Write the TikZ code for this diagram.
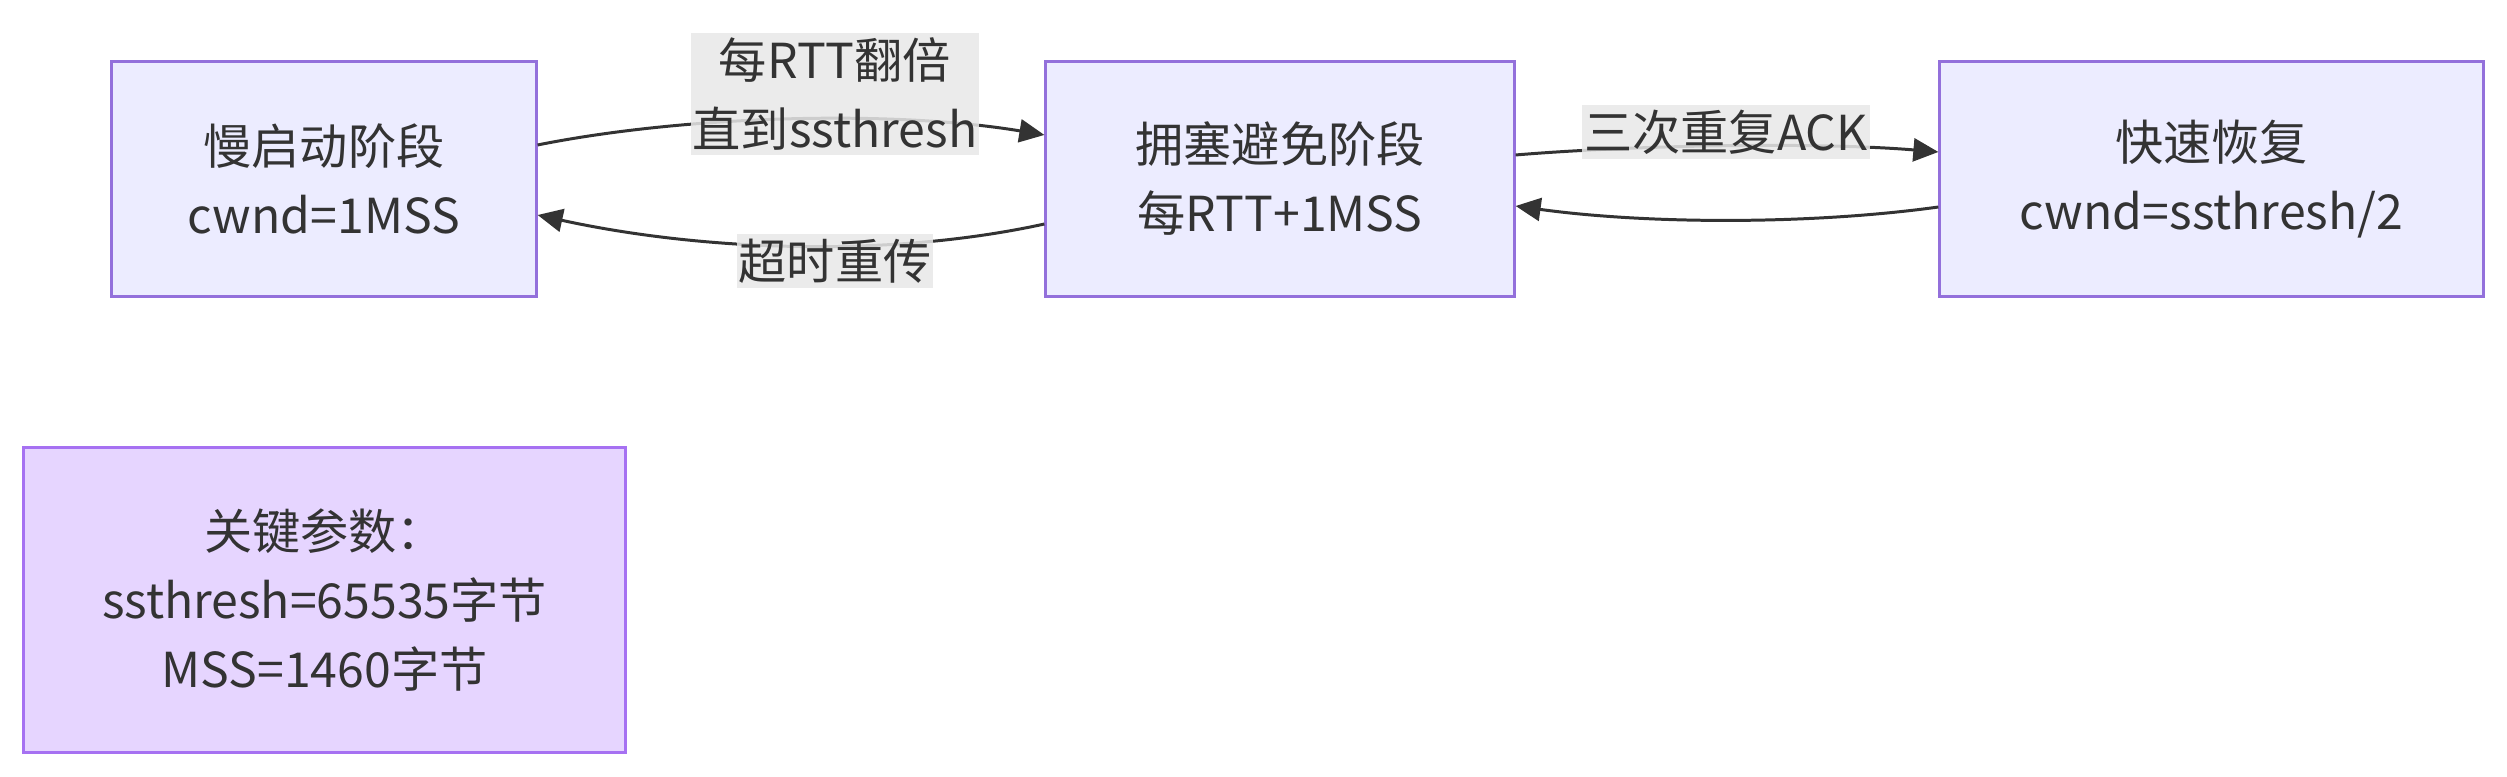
\documentclass[tikz,border=0pt]{standalone}
\usepackage{fontspec}
\setmainfont{Noto Sans CJK SC}
\usetikzlibrary{arrows.meta}

\definecolor{stagefill}{HTML}{ECECFF}
\definecolor{stageline}{HTML}{9370DB}
\definecolor{notefill}{HTML}{E6D5FF}
\definecolor{noteline}{HTML}{A671F2}
\definecolor{lblgray}{HTML}{E8E8E8}
\definecolor{ink}{HTML}{333333}

\tikzset{stage/.style={draw=stageline, fill=stagefill, line width=0.85pt, text=ink, align=center,
    minimum height=2.34cm, inner sep=0pt, font=\fontsize{13.7}{19.6}\selectfont},
  note/.style={stage, draw=noteline, fill=notefill, minimum width=6.01cm, minimum height=3.04cm},
  edgelbl/.style={fill=lblgray, fill opacity=0.85, text opacity=1, text=ink, align=center,
    inner xsep=0.02cm, inner ysep=0.05cm, font=\fontsize{13.7}{19.6}\selectfont},
  flow/.style={draw=ink, line width=0.85pt, -{Triangle[length=0.25cm, width=0.23cm]}}}

\begin{document}
\begin{tikzpicture}[x=0.01cm, y=-0.01cm]
  \useasboundingbox (0,0) rectangle (2507,777);
  % phases
  \node[stage, minimum width=4.24cm] (slow) at (324,179)    {慢启动阶段\\cwnd=1MSS};
  \node[stage, minimum width=4.68cm] (avoid) at (1280,179)  {拥塞避免阶段\\每RTT+1MSS};
  \node[stage, minimum width=5.43cm] (fast) at (2211.5,179) {快速恢复\\cwnd=ssthresh/2};
  \node[note] (param) at (324.5,600) {关键参数：\\ssthresh=65535字节\\MSS=1460字节};

  % transitions
  \draw[flow] ([yshift=0.34cm]slow.east) .. controls +(150,-30) and +(-150,-25) .. ([yshift=0.44cm]avoid.west);
  \draw[flow] ([yshift=-0.45cm]avoid.west) .. controls +(-160,35) and +(160,35) .. ([yshift=-0.36cm]slow.east);
  \draw[flow] ([yshift=0.24cm]avoid.east) .. controls +(120,-10) and +(-120,-10) .. ([yshift=0.27cm]fast.west);
  \draw[flow] ([yshift=-0.28cm]fast.west) .. controls +(-130,18) and +(130,18) .. ([yshift=-0.27cm]avoid.east);

  \node[edgelbl] (dbl) at (835,94)   {每RTT翻倍\\直到ssthresh};
  \node[edgelbl] (rto) at (835,261)  {超时重传};
  \node[edgelbl] (dup) at (1726,132) {三次重复ACK};
\end{tikzpicture}
\end{document}
